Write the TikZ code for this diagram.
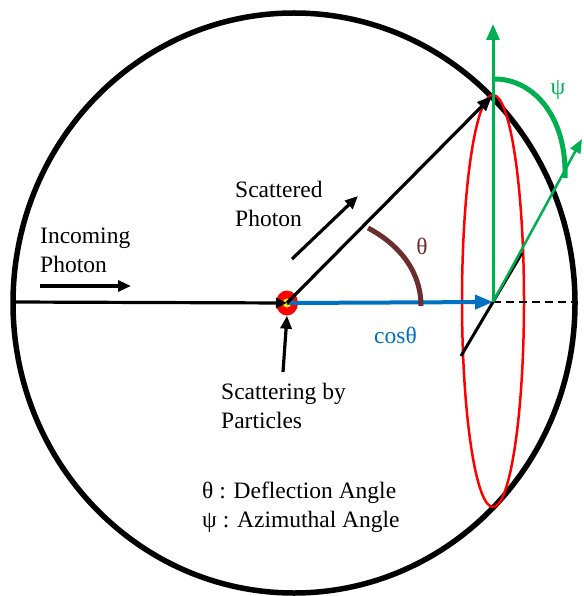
\documentclass[tikz,border=0pt]{standalone}
\usepackage{fontspec}
\setmainfont{Liberation Serif}
\usetikzlibrary{arrows.meta, shapes, positioning}
\definecolor{cosblue}{HTML}{0070C0}
\definecolor{psigreen}{HTML}{00B050}
\definecolor{thetabrown}{HTML}{6B2D2D}
\tikzset{
  rim/.style={line width=5.5pt},
  ray/.style={line width=3.2pt, -{Triangle[length=15pt, width=12pt]}},
  hint/.style={line width=3.2pt, -{Triangle[length=13pt, width=11pt]}},
  lbl/.style={font=\fontsize{23.5}{29}\selectfont, anchor=base west,
              inner sep=0pt, align=left},
  sym/.style={font=\fontsize{23.5}{29}\selectfont, inner sep=0pt}
}
\begin{document}
\begin{tikzpicture}[x=1pt, y=-1pt]
        \useasboundingbox (0,0) rectangle (583,596);
        \coordinate (c) at (294,303);
        \coordinate (S) at (287,303);
        \coordinate (E) at (493,302);
        \coordinate (P) at (492,96);
        \coordinate (rimL) at (13,302);
        \coordinate (rimR) at (575,302);
        % sphere and cone of scattering
        \draw[rim] (c) ellipse [x radius=281, y radius=290];
        \draw[red, line width=2.5pt] (493,301) ellipse [x radius=31, y radius=206];
        \draw[line width=3pt] (461,356) -- (522,253);
        \draw[line width=2.5pt, dashed, dash pattern=on 8pt off 5pt] (E) -- (rimR);
        % green axes and psi
        \draw[psigreen, line width=3pt, -{Triangle[length=16pt, width=13pt]}] (E) -- (493,24);
        \draw[psigreen, line width=2.5pt, -{Triangle[length=14pt, width=11pt]}] (E) -- (582,139);
        \draw[psigreen, line width=5pt] (493,79) .. controls (532,78) and (567,115) .. (565,178);
        \node[sym, text=psigreen] (psi) at (558,90) {ψ};
        % scattering point
        \node[ellipse, fill=red, minimum width=22pt, minimum height=25pt, inner sep=0pt] (dot) at (S) {};
        \node[circle, fill=yellow, minimum size=9pt, inner sep=0pt] at (S) {};
        \draw[line width=3.2pt, -{Triangle[length=11pt, width=10pt]}] (rimL) -- (S);
        \draw[cosblue, line width=4pt, -{Triangle[length=18pt, width=14pt]}] (S) -- (E);
        \draw[ray] (S) -- (P);
        % theta
        \draw[thetabrown, line width=5pt] (368,228) .. controls (400,245) and (421,272) .. (421,306);
        \node[sym, text=thetabrown] (theta) at (422,246) {θ};
        \node[lbl, text=cosblue] (cos) at (374,343) {cosθ};
        % labels with their hint arrows
        \node[lbl] (incoming) at (40,272) {Incoming\\Photon};
        \coordinate (inA) at (40,286);
        \coordinate (inB) at (131,286);
        \draw[hint] (inA) -- (inB);
        \node[lbl] (scattered) at (235,226) {Scattered\\Photon};
        \coordinate (scA) at (292,259);
        \coordinate (scB) at (358,196);
        \draw[hint] (scA) -- (scB);
        \node[lbl] (particles) at (221,428) {Scattering by\\Particles};
        \coordinate (ptA) at (283,372);
        \draw[hint] (ptA) -- (dot.south);
        \node[lbl] (legend) at (202,527) {θ : Deflection Angle\\ψ : Azimuthal Angle};
      \end{tikzpicture}
\end{document}
